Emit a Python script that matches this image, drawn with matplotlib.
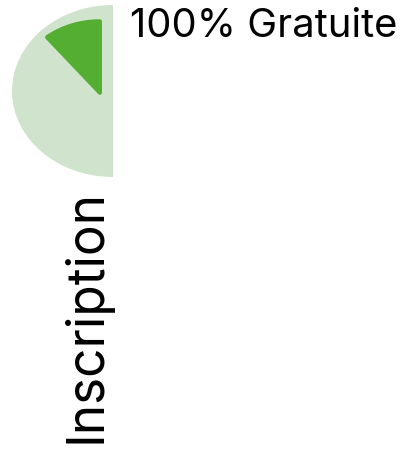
import matplotlib
matplotlib.use("Agg")
import matplotlib.pyplot as plt
from matplotlib.patches import Wedge
import numpy as np

# Data
categories = ["100% Gratuite"]
shares = [0.125]          # fraction of the full circle
axis_title = "Inscription"
light = "#cfe3cd"
dark = "#54ae32"

W, H = 403, 449
fig = plt.figure(figsize=(W / 100, H / 100), dpi=100)
fig.patch.set_facecolor("white")

# axes for the half-disc: pixel box x 12..113, y 5..177
ax = fig.add_axes([12 / W, 1 - 177 / H, (113 - 12) / W, (177 - 5) / H])
ax.set_xlim(-1, 0)
ax.set_ylim(-1, 1)
ax.axis("off")

ax.add_patch(Wedge((0, 0), 1.0, 90, 270, facecolor=light, edgecolor="none"))

start = 90.0
pad = 6.0
for cat, s in zip(categories, shares):
    span = s * 360
    ax.add_patch(Wedge((-0.13, -0.02), 0.83, start, start + span - pad,
                       facecolor=dark, edgecolor=dark, linewidth=3,
                       joinstyle="round"))
    start += span

fig.text(130 / W, 1 - 37 / H, categories[0], fontsize=28.8, family="Inter",
         va="baseline", ha="left", color="black")
fig.text(101 / W, 1 - 443 / H, axis_title, fontsize=37, family="Inter",
         rotation=90, rotation_mode="anchor", va="baseline", ha="left",
         color="black")

fig.savefig("out.png", dpi=100)
